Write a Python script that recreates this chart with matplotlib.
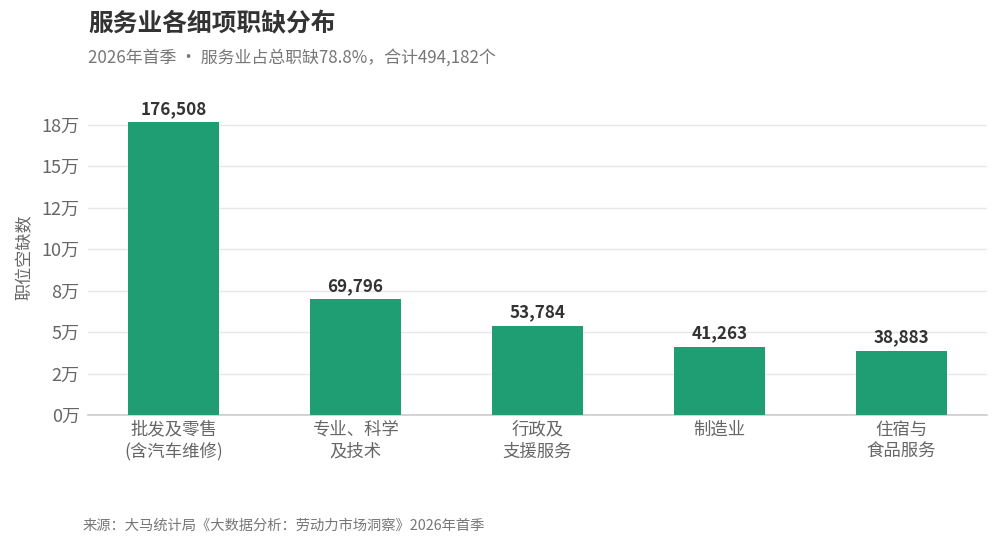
import numpy as np
import matplotlib
matplotlib.use('Agg')
import matplotlib.pyplot as plt
from matplotlib.ticker import FuncFormatter, MultipleLocator

plt.rcParams['font.family'] = ['Noto Sans CJK SC', 'DejaVu Sans']

# data
categories = ['批发及零售\n(含汽车维修)', '专业、科学\n及技术', '行政及\n支援服务', '制造业', '住宿与\n食品服务']
vacancies = [176508, 69796, 53784, 41263, 38883]

title = '服务业各细项职缺分布'
subtitle = '2026年首季 · 服务业占总职缺78.8%，合计494,182个'
source = '来源：大马统计局《大数据分析：劳动力市场洞察》2026年首季'

bar_color = '#1f9e74'
text_dark = '#333333'
text_gray = '#666666'

fig = plt.figure(figsize=(10, 5.51), dpi=100)
ax = fig.add_axes([0.088, 0.2468, 0.899, 0.572])

x = np.arange(len(categories))
ax.bar(x, vacancies, width=0.5, color=bar_color, zorder=3)

for xi, v in zip(x, vacancies):
    ax.annotate('{:,}'.format(v), (xi, v), xytext=(0, 3), textcoords='offset points',
                ha='center', va='bottom', fontsize=12.3, fontweight='bold', color=text_dark)

ax.set_xlim(-0.47, 4.47)
ax.set_ylim(0, 190000)
ax.yaxis.set_major_locator(MultipleLocator(25000))
ax.yaxis.set_major_formatter(FuncFormatter(lambda v, p: '{}万'.format(round(v / 10000))))
ax.set_xticks(x)
ax.set_xticklabels(categories, fontsize=12.5, color=text_gray, linespacing=1.3)
ax.tick_params(axis='both', length=0)
ax.tick_params(axis='y', labelsize=13, colors=text_gray, pad=6)
ax.tick_params(axis='x', pad=4)
ax.grid(axis='y', color='#e8e8e8', linewidth=1, zorder=0)
for s in ['top', 'right', 'left']:
    ax.spines[s].set_visible(False)
ax.spines['bottom'].set_color('#cccccc')
ax.spines['bottom'].set_linewidth(1.2)
ax.set_ylabel('职位空缺数', fontsize=12.3, color=text_gray, labelpad=6)

fig.text(0.088, 0.956, title, fontsize=17.8, fontweight='bold', color=text_dark, va='center')
fig.text(0.088, 0.896, subtitle, fontsize=12.2, color='#777777', va='center')
fig.text(0.083, 0.045, source, fontsize=10.3, color='#777777', va='center')

fig.savefig('out.png', dpi=100, facecolor='white')
